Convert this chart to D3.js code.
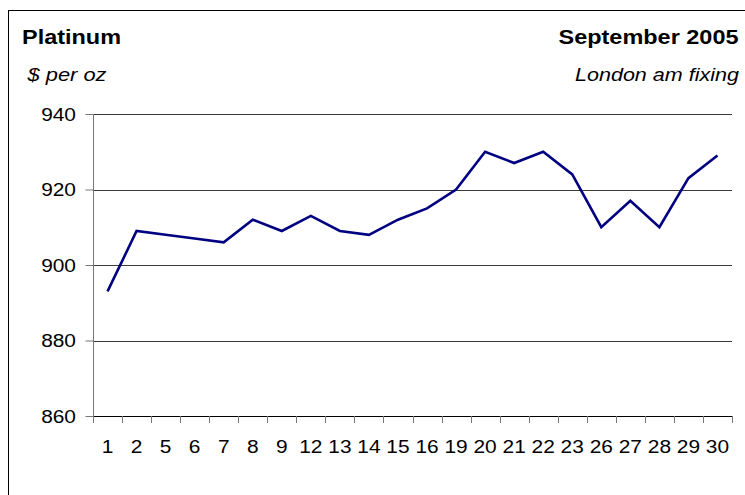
<!DOCTYPE html>
<html><head><meta charset="utf-8">
<script src="https://cdn.jsdelivr.net/npm/d3@7"></script>
<style>body{margin:0;background:#fff}svg{display:block}text{font-family:"Liberation Sans",Arial,sans-serif}</style>
</head><body><svg id="c" width="745" height="495"></svg>
<script>
const days = ["1","2","5","6","7","8","9","12","13","14","15","16","19","20","21","22","23","26","27","28","29","30"];
const prices = [893,909,908,907,906,912,909,913,909,908,912,915,920,930,927,930,924,910,917,910,923,929];
const yTicks = [860,880,900,920,940];

const svg = d3.select("#c");
svg.append("rect").attr("x",8.5).attr("y",10.5).attr("width",800).attr("height",600)
  .attr("fill","none").attr("stroke","#000").attr("stroke-width",1);

const L=93, R=732, T=114, B=416;
const SX = 1.1;
const x = d3.scaleBand().domain(days).range([L,R]);
const y = d3.scaleLinear().domain([860,940]).range([B,T]);

// gridlines
svg.append("g").selectAll("line").data(yTicks.slice(1)).join("line")
  .attr("x1",L).attr("x2",R).attr("y1",d=>Math.round(y(d))+0.5).attr("y2",d=>Math.round(y(d))+0.5)
  .attr("stroke","#3a3a3a").attr("stroke-width",1);

// y axis
const ya = svg.append("g").attr("transform",`translate(${L+0.5},0)`)
  .call(d3.axisLeft(y).tickValues(yTicks).tickSize(8).tickFormat(d3.format("d")));
ya.select(".domain").attr("stroke","#777").attr("d",`M0,${T}V${B}`);
ya.selectAll(".tick line").attr("stroke","#777");
ya.selectAll(".tick text").attr("font-size","19px").attr("fill","#000")
  .attr("font-family","Liberation Sans, Arial, sans-serif")
  .attr("x",-17.5/SX).attr("transform",`scale(${SX},1)`);

// x axis
const xa = svg.append("g").attr("transform",`translate(0,${B+0.5})`)
  .call(d3.axisBottom(x).tickSize(0).tickPadding(23));
xa.select(".domain").attr("stroke","#000").attr("d",`M${L},0H${R}`);
xa.selectAll(".tick text").attr("font-size","19px").attr("fill","#000")
  .attr("font-family","Liberation Sans, Arial, sans-serif").attr("transform",`scale(${SX},1)`);
svg.append("g").selectAll("line").data(days.concat(["end"])).join("line")
  .attr("x1",(d,i)=>Math.round(L+i*x.step())+0.5).attr("x2",(d,i)=>Math.round(L+i*x.step())+0.5)
  .attr("y1",B).attr("y2",B+7).attr("stroke","#777");

// line
const line = d3.line().x((d,i)=>x(days[i])+x.bandwidth()/2).y(d=>y(d));
svg.append("path").datum(prices).attr("d",line).attr("fill","none")
  .attr("stroke","#000080").attr("stroke-width",2.6).attr("stroke-linejoin","miter");

// titles
svg.append("text").attr("x",22).attr("y",43.5).attr("font-size","20px").attr("font-weight","bold")
  .attr("textLength",99).attr("lengthAdjust","spacingAndGlyphs").text("Platinum");
svg.append("text").attr("x",738.5).attr("y",43.5).attr("text-anchor","end").attr("font-size","20px").attr("font-weight","bold")
  .attr("textLength",180).attr("lengthAdjust","spacingAndGlyphs").text("September 2005");
svg.append("text").attr("x",27.5).attr("y",81).attr("font-size","19px").attr("font-style","italic")
  .attr("textLength",79).attr("lengthAdjust","spacingAndGlyphs").text("$ per oz");
svg.append("text").attr("x",739).attr("y",81).attr("text-anchor","end").attr("font-size","19px").attr("font-style","italic")
  .attr("textLength",164).attr("lengthAdjust","spacingAndGlyphs").text("London am fixing");
</script></body></html>
